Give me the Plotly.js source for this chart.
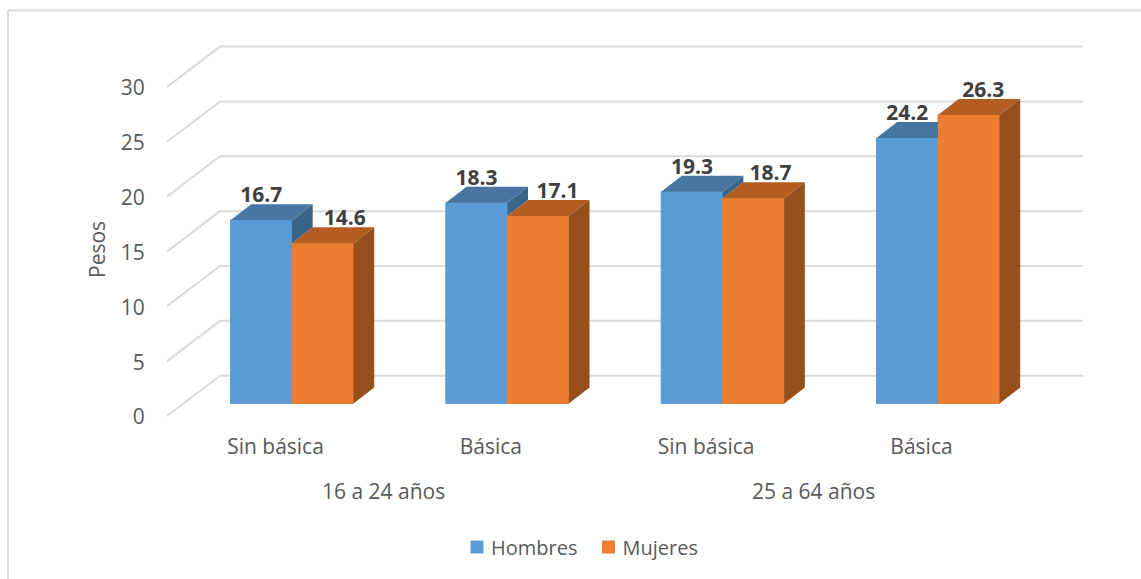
<!DOCTYPE html>
<html>
<head>
<meta charset="utf-8">
<script src="https://cdn.plot.ly/plotly-3.0.1.min.js"></script>
<style>html,body{margin:0;padding:0;background:#fff}</style>
</head>
<body>
<div id="chart" style="width:1141px;height:579px"></div>
<script>
const categories = ["Sin básica", "Básica", "Sin básica", "Básica"];
const groups = ["16 a 24 años", "25 a 64 años"];
const hombres = [16.7, 18.3, 19.3, 24.2];
const mujeres = [14.6, 17.1, 18.7, 26.3];
const axisTicks = [0, 5, 10, 15, 20, 25, 30];

// Pixel geometry of the plot box
const W = 1141, H = 579;
const L = 167, R = 1083, T = 40, B = 420;
const catStep = 215.33, firstCat = 292, base = 403.5, unit = 10.97;
const xRange = [(L - firstCat) / catStep, (R - firstCat) / catStep];
const yRange = [(base - B) / unit, (base - T) / unit];

const barW = 61.5 / catStep;       // width of one bar in x units
const dx = 20.7 / catStep;         // bar depth, x
const dy = 16 / unit;              // bar depth, y
const wallDx = 53 / catStep;       // wall depth, x
const wallBack = (base - 375.7) / unit; // back wall zero
const wallFront = (base - 416) / unit;  // front edge of the side wall
const tickNudge = 1 / unit;
const tickShift = -16.5 / catStep;
const labelDrop = 3 / unit;
const idx = categories.map((_, i) => i);

function poly(points, arrX, arrY) {
  points.forEach(p => { arrX.push(p[0]); arrY.push(p[1]); });
  arrX.push(null); arrY.push(null);
}
function face(color, build) {
  const xs = [], ys = [];
  idx.forEach(i => { const pts = build(i); if (pts) poly(pts, xs, ys); });
  return {type: "scatter", mode: "lines", x: xs, y: ys, fill: "toself", fillcolor: color,
          line: {width: 0, color: color}, showlegend: false, hoverinfo: "skip"};
}

const traces = [
  {type: "bar", name: "Hombres", x: idx, y: hombres, marker: {color: "#5B9BD5", line: {width: 1, color: "#5B9BD5"}}, hoverinfo: "y+name"},
  {type: "bar", name: "Mujeres", x: idx, y: mujeres, marker: {color: "#ED7D31", line: {width: 1, color: "#ED7D31"}}, hoverinfo: "y+name"},
  face("#3A6488", i => hombres[i] > mujeres[i] ? [
    [i, hombres[i]], [i + dx, hombres[i] + dy], [i + dx, mujeres[i] + dy], [i, mujeres[i]]
  ] : null),
  face("#4676A1", i => hombres[i] > mujeres[i] ? [
    [i - barW, hombres[i]], [i, hombres[i]], [i + dx, hombres[i] + dy], [i - barW + dx, hombres[i] + dy]
  ] : [
    [i - barW, hombres[i]], [i, hombres[i]], [i, hombres[i] + dy], [i - barW + dx, hombres[i] + dy]
  ]),
  face("#B45D22", i => [
    [i, mujeres[i]], [i + barW, mujeres[i]], [i + barW + dx, mujeres[i] + dy], [i + dx, mujeres[i] + dy]
  ]),
  face("#97501C", i => [
    [i + barW, mujeres[i]], [i + barW + dx, mujeres[i] + dy], [i + barW + dx, dy], [i + barW, 0]
  ]),
  {type: "scatter", mode: "text", x: idx.map(i => i - barW / 2), y: hombres.map(v => v + dy - labelDrop),
   text: hombres.map(v => v.toFixed(1)), textposition: "top center", cliponaxis: false,
   textfont: {family: "Open Sans", size: 21, color: "#404040", weight: 700}, showlegend: false, hoverinfo: "skip"},
  {type: "scatter", mode: "text", x: idx.map(i => i + barW / 2 + (22 - 2.5 * i) / catStep), y: mujeres.map(v => v + dy - labelDrop),
   text: mujeres.map(v => v.toFixed(1)), textposition: "top center", cliponaxis: false,
   textfont: {family: "Open Sans", size: 21, color: "#404040", weight: 700}, showlegend: false, hoverinfo: "skip"}
];

const GRID = "#D9D9D9";
const px = p => (p - L) / (R - L);
const py = p => (B - p) / (B - T);
const shapes = [];
axisTicks.forEach(t => {
  const front = t + wallFront, back = t + wallBack;
  shapes.push({type: "line", layer: "below", xref: "x", yref: "y", x0: xRange[0], x1: xRange[0] + wallDx, y0: front, y1: back, line: {color: GRID, width: 2}});
  shapes.push({type: "line", layer: "below", xref: "x", yref: "y", x0: xRange[0] + wallDx, x1: xRange[1], y0: back, y1: back, line: {color: GRID, width: 2}});
});
shapes.push({type: "line", layer: "below", xref: "paper", yref: "paper", x0: px(8), x1: px(W), y0: py(10.5), y1: py(10.5), line: {color: GRID, width: 2}});
shapes.push({type: "line", layer: "below", xref: "paper", yref: "paper", x0: px(8), x1: px(8), y0: py(10.5), y1: py(H), line: {color: GRID, width: 2}});

const textFont = {family: "Open Sans", size: 21, color: "#595959"};
const legendFont = {family: "Open Sans", size: 20, color: "#595959"};
const layout = {
  width: W, height: H, autosize: false,
  margin: {l: L, r: W - R, t: T, b: H - B, pad: 0},
  paper_bgcolor: "#fff", plot_bgcolor: "rgba(0,0,0,0)",
  barmode: "group", bargap: 1 - 2 * barW, bargroupgap: 0,
  font: textFont,
  xaxis: {range: xRange, tickmode: "array", tickvals: idx.map(i => i + tickShift), ticktext: categories,
          showgrid: false, zeroline: false, showline: false, ticks: "outside", ticklen: 8, tickcolor: "rgba(0,0,0,0)",
          tickfont: textFont, tickangle: 0},
  yaxis: {range: yRange, tickmode: "array", tickvals: axisTicks.map(t => t + wallFront - tickNudge), ticktext: axisTicks.map(String),
          showgrid: false, zeroline: false, showline: false, ticks: "outside", ticklen: 17, tickcolor: "rgba(0,0,0,0)",
          tickfont: textFont},
  legend: {orientation: "h", x: px(451), xanchor: "left", y: py(547), yanchor: "middle", font: legendFont, bgcolor: "rgba(0,0,0,0)",
           itemclick: false, itemdoubleclick: false},
  shapes: shapes,
  annotations: [
    {xref: "x", yref: "paper", x: 0.5 + tickShift, y: py(491), text: groups[0], showarrow: false, font: textFont, xanchor: "center", yanchor: "middle"},
    {xref: "x", yref: "paper", x: 2.5 + tickShift, y: py(491), text: groups[1], showarrow: false, font: textFont, xanchor: "center", yanchor: "middle"},
    {xref: "paper", yref: "paper", x: px(97), y: py(250), text: "Pesos", textangle: -90, showarrow: false, font: textFont, xanchor: "center", yanchor: "middle"}
  ]
};
Plotly.newPlot("chart", traces, layout, {displayModeBar: false, responsive: false}).then(() => {
  // Pull the legend swatches closer to their labels
  document.querySelectorAll("#chart .legend .legendsymbols").forEach(g => g.setAttribute("transform", "translate(6,0)"));
});
</script>
</body>
</html>
